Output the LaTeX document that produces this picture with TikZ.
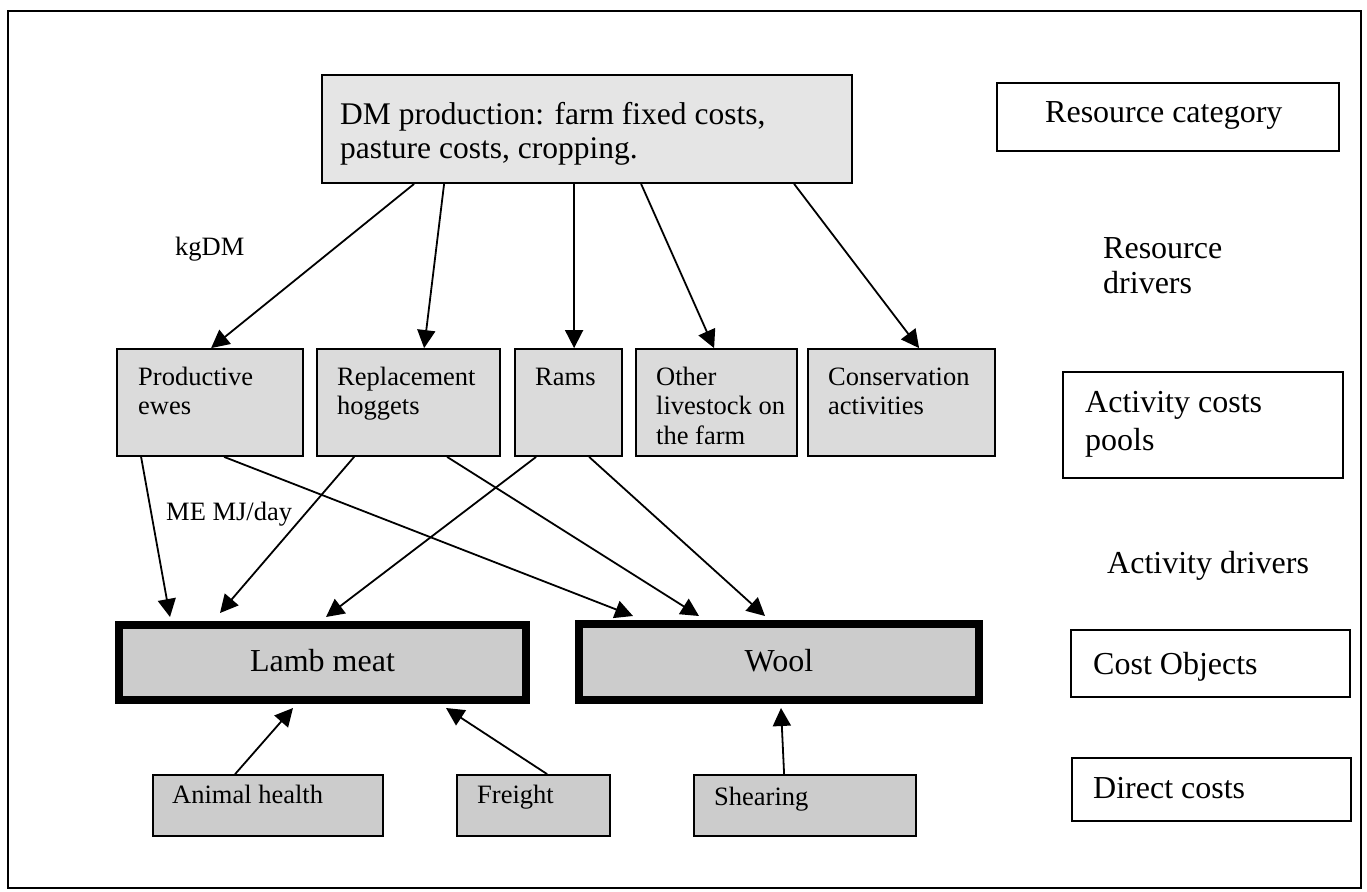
\documentclass[tikz,border=0pt]{standalone}
\usepackage{fontspec}
\setmainfont{Liberation Serif}
\usetikzlibrary{arrows.meta,calc}
\definecolor{dmfill}{gray}{0.90}
\definecolor{actfill}{gray}{0.86}
\definecolor{objfill}{gray}{0.80}
\definecolor{dirfill}{gray}{0.80}
\begin{document}
\begin{tikzpicture}[x=1pt,y=-1pt,
  box/.style={draw=black, line width=1.8pt, inner sep=0pt},
  gbox/.style={box, fill=actfill},
  wbox/.style={box, fill=white},
  obox/.style={draw=black, line width=8pt, fill=objfill, inner sep=0pt},
  lbl/.style={inner sep=0pt, anchor=north west, align=left},
  bl/.style={inner sep=0pt, anchor=base west},
  fbig/.style={font=\fontsize{32}{38}\selectfont},
  fmid/.style={font=\fontsize{26.5}{29.5}\selectfont},
  arr/.style={line width=1.8pt, -{Triangle[length=18pt,width=18pt]}}
]
\useasboundingbox (0,0) rectangle (1367,891);
\fill[white] (0,0) rectangle (1367,891);
\draw[line width=1.6pt] (8,11) rectangle (1361,888);

% top box
\node[box, fill=dmfill, minimum width=530, minimum height=108] (dm) at (587,129) {};
\node[lbl, font=\fontsize{31.5}{34}\selectfont] (dmt) at (340,100) {\strut DM production: farm fixed costs,\\pasture costs, cropping.};

% activity boxes
\node[gbox, minimum width=186, minimum height=107] (pe) at (210,402.5) {};
\node[gbox, minimum width=183, minimum height=107] (rh) at (408.5,402.5) {};
\node[gbox, minimum width=107, minimum height=107] (ra) at (568.5,402.5) {};
\node[gbox, minimum width=161, minimum height=107] (ol) at (716.5,402.5) {};
\node[gbox, minimum width=187, minimum height=107] (ca) at (901.5,402.5) {};
\node[lbl, fmid] (pet) at (138,364.5) {\strut Productive\\ewes};
\node[lbl, fmid] (rht) at (337,364.5) {\strut Replacement\\hoggets};
\node[lbl, fmid] (rat) at (535,364.5) {\strut Rams};
\node[lbl, fmid] (olt) at (656,364.5) {\strut Other\\livestock on\\the farm};
\node[lbl, fmid] (cat) at (828,364.5) {\strut Conservation\\activities};

% cost objects
\node[obox, minimum width=407, minimum height=75] (lm) at (322.5,662.5) {};
\node[obox, minimum width=400, minimum height=76] (wo) at (779,662) {};
\node[fbig, inner sep=0pt, anchor=base] (lmt) at (322.5,671) {Lamb meat};
\node[fbig, inner sep=0pt, anchor=base] (wot) at (779,671) {Wool};

% direct costs
\node[box, fill=dirfill, minimum width=230, minimum height=61] (ah) at (268,805.5) {};
\node[box, fill=dirfill, minimum width=153, minimum height=61] (fr) at (533.5,805.5) {};
\node[box, fill=dirfill, minimum width=222, minimum height=61] (sh) at (805,805.5) {};
\node[bl, fmid] (aht) at (172,803) {Animal health};
\node[bl, fmid] (frt) at (477,803) {Freight};
\node[bl, fmid] (sht) at (714,805) {Shearing};

% right column
\node[wbox, minimum width=342, minimum height=68] (rc) at (1168,117) {};
\node[bl, fbig] (rct) at (1045,122) {Resource category};
\node[lbl, fbig, font=\fontsize{32}{35}\selectfont] (rdt) at (1103,233.5) {\strut Resource\\drivers};
\node[wbox, minimum width=280, minimum height=106] (ap) at (1203,425) {};
\node[lbl, fbig] (apt) at (1085,385.4) {\strut Activity costs\\pools};
\node[bl, fbig] (adt) at (1107,573) {Activity drivers};
\node[wbox, minimum width=279, minimum height=67] (co) at (1210.5,663.5) {};
\node[bl, fbig] (cot) at (1093,674) {Cost Objects};
\node[wbox, minimum width=279, minimum height=63] (dc) at (1211.5,789.5) {};
\node[bl, fbig] (dct) at (1093,798) {Direct costs};

% driver labels
\node[bl, fmid] (kg) at (175,255) {kgDM};
\node[bl, fmid] (me) at (166,520) {ME MJ/day};

% arrows DM -> activities
\draw[arr] ($(dm.south west)+(93,0)$) -- ($(pe.north west)+(95,0)$);
\draw[arr] ($(dm.south west)+(123,0)$) -- ($(rh.north west)+(108,0)$);
\draw[arr] ($(dm.south west)+(253,0)$) -- ($(ra.north west)+(60,0)$);
\draw[arr] ($(dm.south west)+(320,0)$) -- ($(ol.north west)+(79,0)$);
\draw[arr] ($(dm.south west)+(473,0)$) -- ($(ca.north west)+(112,0)$);

% activities -> cost objects
\draw[arr] ($(pe.south west)+(25,0)$) -- ($(lm.north west)+(55,-4)$);
\draw[arr] ($(pe.south west)+(108,0)$) -- ($(wo.north west)+(58,-4)$);
\draw[arr] ($(rh.south west)+(38,0)$) -- ($(lm.north west)+(105,-8)$);
\draw[arr] ($(rh.south west)+(131,0)$) -- ($(wo.north west)+(124,-4)$);
\draw[arr] ($(ra.south west)+(22,0)$) -- ($(lm.north west)+(211,-4)$);
\draw[arr] ($(ra.south west)+(75,0)$) -- ($(wo.north west)+(190,-4)$);

% direct costs -> cost objects
\draw[arr] ($(ah.north west)+(83,0)$) -- ($(lm.south west)+(178,4)$);
\draw[arr] ($(fr.north west)+(91,0)$) -- ($(lm.south west)+(331,4)$);
\draw[arr] ($(sh.north west)+(91,0)$) -- ($(wo.south west)+(206,4)$);
\end{tikzpicture}
\end{document}
